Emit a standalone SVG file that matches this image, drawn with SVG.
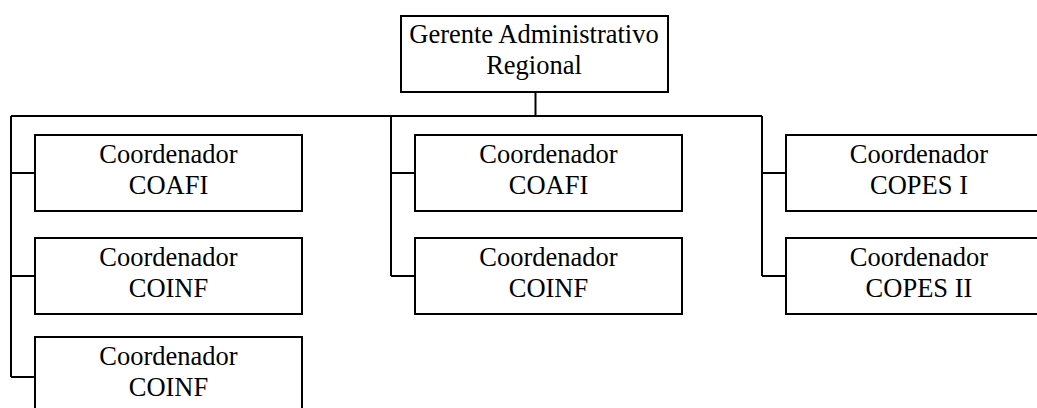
<svg xmlns="http://www.w3.org/2000/svg" width="1037" height="408" viewBox="0 0 1037 408">
  <style>
    .box { fill: #ffffff; stroke: #000000; stroke-width: 2; }
    .lbl { font-family: "Liberation Serif", "Times New Roman", serif; font-size: 26.5px; fill: #000000; text-anchor: middle; }
    .wire { fill: none; stroke: #000000; stroke-width: 2; }
  </style>
  <rect width="1037" height="408" fill="#ffffff"/>

  <!-- connectors -->
  <g id="connectors">
    <path class="wire" d="M535.5 92 V116 M11 116 H762"/>
    <path class="wire" d="M11 116 V377 M11 173 H35 M11 276 H35 M11 377 H35"/>
    <path class="wire" d="M391 116 V276 M391 173 H415 M391 276 H415"/>
    <path class="wire" d="M762 116 V276 M762 173 H786 M762 276 H786"/>
  </g>

  <g id="gerente">
    <rect class="box" x="401" y="16" width="267" height="76"/>
    <text class="lbl" x="534" y="43">Gerente Administrativo</text>
    <text class="lbl" x="534" y="74">Regional</text>
  </g>

  <g id="coafi-1">
    <rect class="box" x="35" y="135" width="267" height="76"/>
    <text class="lbl" x="168.5" y="163">Coordenador</text>
    <text class="lbl" x="168.5" y="193.5">COAFI</text>
  </g>
  <g id="coinf-1">
    <rect class="box" x="35" y="238" width="267" height="76"/>
    <text class="lbl" x="168.5" y="266">Coordenador</text>
    <text class="lbl" x="168.5" y="296.5">COINF</text>
  </g>
  <g id="coinf-2">
    <rect class="box" x="35" y="337" width="267" height="76"/>
    <text class="lbl" x="168.5" y="365">Coordenador</text>
    <text class="lbl" x="168.5" y="395.5">COINF</text>
  </g>

  <g id="coafi-2">
    <rect class="box" x="415" y="135" width="267" height="76"/>
    <text class="lbl" x="548.5" y="163">Coordenador</text>
    <text class="lbl" x="548.5" y="193.5">COAFI</text>
  </g>
  <g id="coinf-3">
    <rect class="box" x="415" y="238" width="267" height="76"/>
    <text class="lbl" x="548.5" y="266">Coordenador</text>
    <text class="lbl" x="548.5" y="296.5">COINF</text>
  </g>

  <g id="copes-1">
    <rect class="box" x="786" y="135" width="267" height="76"/>
    <text class="lbl" x="919" y="163">Coordenador</text>
    <text class="lbl" x="919" y="193.5">COPES I</text>
  </g>
  <g id="copes-2">
    <rect class="box" x="786" y="238" width="267" height="76"/>
    <text class="lbl" x="919" y="266">Coordenador</text>
    <text class="lbl" x="919" y="296.5">COPES II</text>
  </g>
</svg>
